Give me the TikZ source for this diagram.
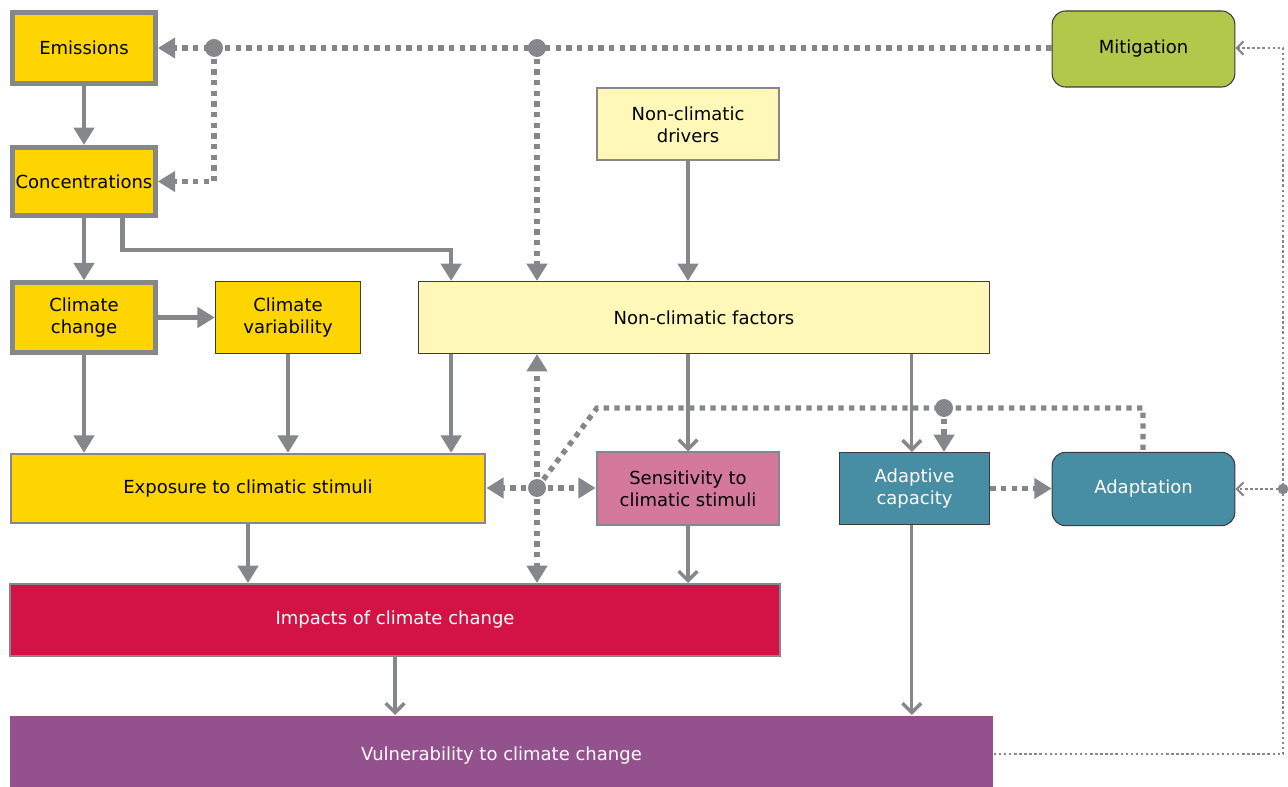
\documentclass[tikz,border=0pt]{standalone}
\usepackage{fontspec}
\setmainfont{DejaVu Sans}
\usetikzlibrary{arrows.meta}

\definecolor{lgray}{RGB}{134,135,138}
\definecolor{bdark}{RGB}{60,60,60}
\definecolor{gold}{RGB}{255,213,0}
\definecolor{paleyel}{RGB}{255,248,185}
\definecolor{rosepink}{RGB}{213,121,155}
\definecolor{tealblue}{RGB}{71,141,163}
\definecolor{leafgreen}{RGB}{178,200,74}
\definecolor{crimson}{RGB}{211,18,69}
\definecolor{plum}{RGB}{147,82,141}

\begin{document}
\begin{tikzpicture}[x=0.75pt,y=-0.75pt,
    box/.style={draw=lgray,line width=1.5pt,align=center,inner sep=1pt,
        font=\fontsize{13.5}{16.5}\selectfont},
    thickbox/.style={box,line width=3.75pt,fill=gold},
    darkbox/.style={box,draw=bdark,line width=0.8pt},
    flow/.style={lgray,line width=3.4pt,-{Triangle[width=15pt,length=13pt]}},
    thinflow/.style={lgray,line width=2.3pt,-{Straight Barb[width=14pt,length=7pt,line width=2.6pt]}},
    dotline/.style={lgray,line width=4pt,dash pattern=on 4pt off 4pt},
    dotflow/.style={dotline,-{Triangle[width=15pt,length=13pt]}},
    fineline/.style={lgray,line width=1.8pt,dash pattern=on 1.8pt off 2pt},
    fineflow/.style={fineline,-{Straight Barb[width=10pt,length=5pt,line width=1.6pt]}}]
    \useasboundingbox (0,0) rectangle (1288,787);

    \node[thickbox,minimum width=107pt,minimum height=53pt] (emis) at (84,48) {Emissions};
    \node[thickbox,minimum width=107pt,minimum height=51pt] (conc) at (84,181.5) {Concentrations};
    \node[thickbox,minimum width=107pt,minimum height=52pt] (cc) at (84,317.5) {Climate\\change};
    \node[darkbox,fill=gold,minimum width=109pt,minimum height=54pt] (cv) at (288,317.5) {Climate\\variability};
    \node[box,fill=paleyel,minimum width=137pt,minimum height=54pt] (ncd) at (688,124.5) {Non-climatic\\drivers};
    \node[darkbox,fill=paleyel,minimum width=428pt,minimum height=54pt] (ncf) at (704,317.5) {Non-climatic factors};
    \node[box,fill=gold,minimum width=356pt,minimum height=52pt] (expo) at (248,488.5) {Exposure to climatic stimuli};
    \node[box,fill=rosepink,minimum width=137pt,minimum height=54pt] (sens) at (688,488.5) {Sensitivity to\\climatic stimuli};
    \node[darkbox,fill=tealblue,text=white,minimum width=113pt,minimum height=54pt] (adc) at (914.5,488.5) {Adaptive\\capacity};
    \node[darkbox,fill=tealblue,text=white,rounded corners=10pt,minimum width=137pt,minimum height=55pt] (adap) at (1143.5,489) {Adaptation};
    \node[darkbox,fill=leafgreen,rounded corners=10pt,minimum width=137pt,minimum height=57pt] (miti) at (1143.5,49) {Mitigation};
    \node[box,fill=crimson,text=white,minimum width=577pt,minimum height=54pt] (imp) at (395,620) {Impacts of climate change};
    \node[box,draw=none,fill=plum,text=white,minimum width=737pt,minimum height=60pt] (vul) at (501.5,756) {Vulnerability to climate change};

    \coordinate (j1) at (214,48);
    \coordinate (j2) at (537,48);
    \coordinate (j3) at (537,488);
    \coordinate (kink) at (597,408);
    \coordinate (j4) at (944,408);
    \coordinate (j5) at (1143,408);
    \coordinate (r1) at (1283,48);
    \coordinate (r2) at (1283,489);

    \draw[flow] (emis) -- (conc);
    \draw[flow] (conc) -- (cc);
    \draw[flow] ([xshift=29pt]conc.south) -- ++(0,32) -| ([xshift=24.75pt]ncf.north west);
    \draw[flow] (cc) -- (cv);
    \draw[flow] (cc.south) -- (cc.south |- expo.north);
    \draw[flow] (cv.south) -- (cv.south |- expo.north);
    \draw[flow] ([xshift=24.75pt]ncf.south west) -- ([xshift=24.75pt]ncf.south west |- expo.north);
    \draw[flow] (ncd.south) -- (ncd.south |- ncf.north);
    \draw[flow] (expo.south) -- (expo.south |- imp.north);
    \draw[thinflow] (sens.north |- ncf.south) -- (sens.north);
    \draw[thinflow] (sens.south) -- (sens.south |- imp.north);
    \draw[thinflow] ([xshift=-2pt]adc.north |- ncf.south) -- ([xshift=-2pt]adc.north);
    \draw[thinflow] ([xshift=-2pt]adc.south) -- ([xshift=-2pt]adc.south |- vul.north);
    \draw[thinflow] (imp.south) -- (imp.south |- vul.north);

    \draw[dotflow] (miti.west |- emis.east) -- (emis.east);
    \draw[dotflow] (j1) |- (conc.east);
    \draw[dotflow] (j2) -- (j2 |- ncf.north);
    \draw[dotflow] (j3) -- (j3 |- ncf.south);
    \draw[dotflow] (j3) -- (j3 |- imp.north);
    \draw[dotflow] (j3) -- (j3 -| expo.east);
    \draw[dotflow] (j3) -- (j3 -| sens.west);
    \draw[dotline] (j3) -- (kink) -- (j5) -- (j5 |- adap.north);
    \draw[dotflow] (j4) -- (j4 |- adc.north);
    \draw[dotflow] (adc.east) -- (adc.east -| adap.west);
    \draw[fineflow] (vul.east |- 0,754) -| (r1) -- (miti.east |- r1);
    \draw[fineflow] (r2) -- (adap.east);

    \foreach \j in {j1,j2,j3,j4}
        \fill[lgray] (\j) circle[radius=6.75pt];
    \fill[lgray] (r2) circle[radius=4pt];
\end{tikzpicture}
\end{document}
